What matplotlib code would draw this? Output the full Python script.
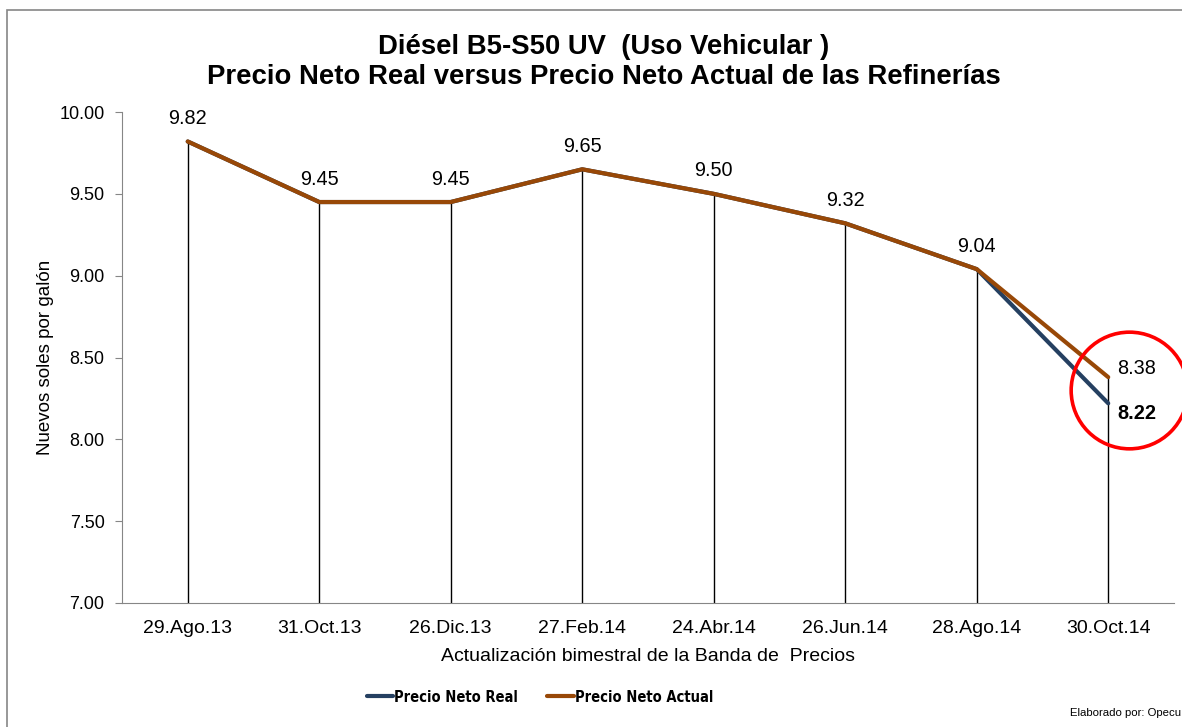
import matplotlib
matplotlib.use("Agg")
from matplotlib import pyplot as plt
from matplotlib.patches import Rectangle
from matplotlib.transforms import ScaledTranslation

plt.rcParams['font.family'] = ['Liberation Sans', 'DejaVu Sans']

fechas = ["29.Ago.13", "31.Oct.13", "26.Dic.13", "27.Feb.14",
          "24.Abr.14", "26.Jun.14", "28.Ago.14", "30.Oct.14"]
precio_real = [9.82, 9.45, 9.45, 9.65, 9.50, 9.32, 9.04, 8.22]
precio_actual = [9.82, 9.45, 9.45, 9.65, 9.50, 9.32, 9.04, 8.38]
yticks = [7.00, 7.50, 8.00, 8.50, 9.00, 9.50, 10.00]

color_real = "#254061"
color_actual = "#984807"


def main():
    fig = plt.figure(figsize=(11.82, 7.27), dpi=100)
    ax = fig.add_axes([0.1032, 0.1706, 0.89, 0.6753])
    x = list(range(len(fechas)))

    # lineas de caida hasta el eje
    tops = [max(a, b) for a, b in zip(precio_real, precio_actual)]
    ax.vlines(x, yticks[0], tops, color="black", linewidth=1, zorder=1)

    ax.plot(x, precio_real, color=color_real, linewidth=3, label="Precio Neto Real",
            solid_capstyle="round", zorder=3)
    ax.plot(x, precio_actual, color=color_actual, linewidth=3, label="Precio Neto Actual",
            solid_capstyle="round", zorder=4)

    # etiquetas de datos
    for i in x[:-1]:
        ax.annotate("%.2f" % precio_actual[i], (i, precio_actual[i]), xytext=(0, 16.5),
                    textcoords="offset points", ha="center", va="center", fontsize=14.3)
    last = x[-1]
    ax.annotate("%.2f" % precio_actual[last], (last, precio_actual[last]), xytext=(20.5, 6.5),
                textcoords="offset points", ha="center", va="center", fontsize=14.3)
    ax.annotate("%.2f" % precio_real[last], (last, precio_real[last]), xytext=(20.5, -7),
                textcoords="offset points", ha="center", va="center", fontsize=14.3,
                fontweight="bold")

    # circulo rojo alrededor del ultimo punto
    centro = (precio_real[last] + precio_actual[last]) / 2
    off = ScaledTranslation(21 / 100, 0, fig.dpi_scale_trans)
    ax.plot([last], [centro], marker="o", markersize=84, markerfacecolor="none",
            markeredgecolor="#FF0000", markeredgewidth=2.6, transform=ax.transData + off,
            clip_on=False, zorder=5)

    ax.set_xlim(-0.5, len(fechas) - 0.5)
    ax.set_ylim(yticks[0], yticks[-1])
    ax.set_xticks(x)
    ax.set_xticklabels(fechas, fontsize=14)
    ax.set_yticks(yticks)
    ax.set_yticklabels(["%.2f" % v for v in yticks], fontsize=13)
    ax.tick_params(axis="x", length=0, pad=12.5)
    ax.tick_params(axis="y", length=5, color="#868686", pad=7.5)
    for s in ["top", "right"]:
        ax.spines[s].set_visible(False)
    ax.spines["left"].set_color("#868686")
    ax.spines["bottom"].set_color("#868686")

    ax.set_xlabel("Actualización bimestral de la Banda de  Precios", fontsize=14, labelpad=8)
    ax.set_ylabel("Nuevos soles por galón", fontsize=13.5, labelpad=4)

    fig.text(0.511, 0.915, "Diésel B5-S50 UV  (Uso Vehicular )\nPrecio Neto Real versus Precio Neto Actual de las Refinerías",
             ha="center", va="center", fontsize=19.8, fontweight="bold", linespacing=1.2)

    leg = fig.legend(loc="center", bbox_to_anchor=(540 / 1182, 1 - 697 / 727), ncol=2,
                     frameon=False, handlelength=1.8, handletextpad=0.1, columnspacing=2.0,
                     prop={"family": "DejaVu Sans", "stretch": "condensed",
                           "weight": "bold", "size": 10.5})
    for line in leg.get_lines():
        line.set_linewidth(3)

    fig.text(0.999, 1 - 713 / 727, "Elaborado por: Opecu", ha="right", va="center",
             fontsize=8.2)

    # borde del grafico
    fig.add_artist(Rectangle((7 / 1182, -0.1), 1.2, 1.1 - 10 / 727, transform=fig.transFigure,
                             fill=False, edgecolor="#868686", linewidth=1.2))

    fig.savefig("out.png", dpi=100)


if __name__ == "__main__":
    main()
